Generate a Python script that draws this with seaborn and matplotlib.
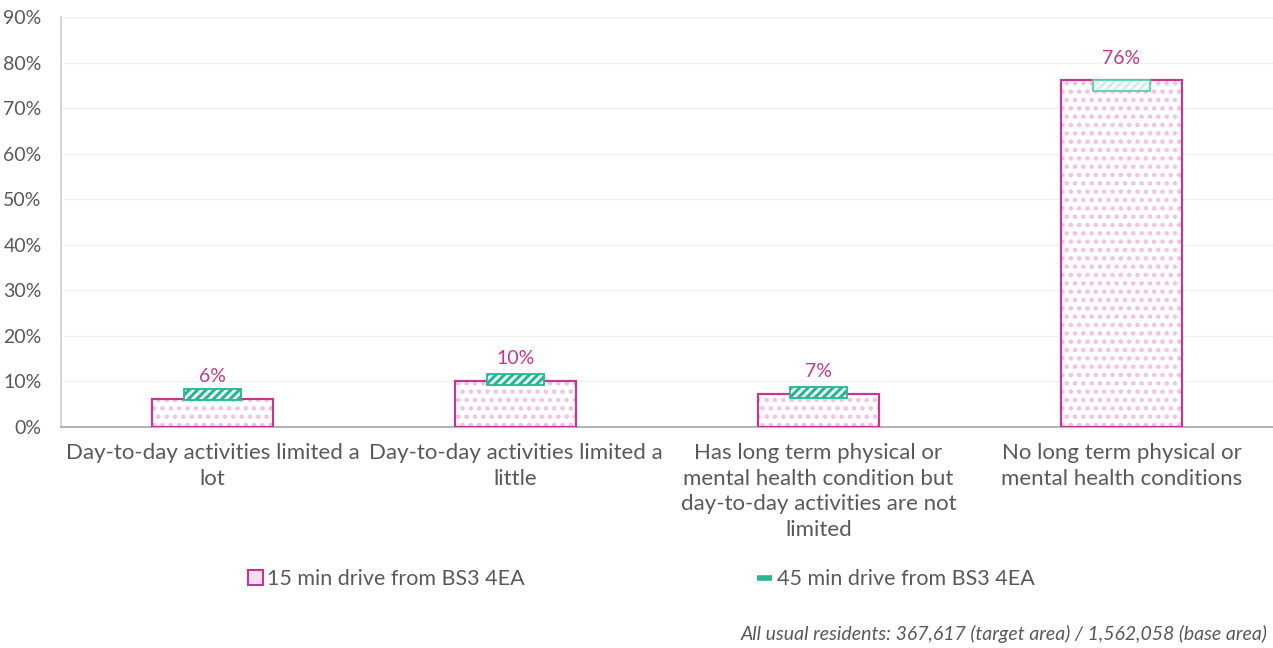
import numpy as np
import pandas as pd
import matplotlib
matplotlib.use("Agg")
import matplotlib.pyplot as plt
import seaborn as sns
from matplotlib.patches import Patch
from matplotlib.lines import Line2D

categories = [
    "Day-to-day activities limited a\nlot",
    "Day-to-day activities limited a\nlittle",
    "Has long term physical or\nmental health condition but\nday-to-day activities are not\nlimited",
    "No long term physical or\nmental health conditions",
]
values_15 = [6.2, 10.1, 7.2, 76.2]
values_45 = [7.1, 10.4, 7.5, 75.1]
value_labels = ["6%", "10%", "7%", "76%"]
series_names = ["15 min drive from BS3 4EA", "45 min drive from BS3 4EA"]
y_ticks = [0, 10, 20, 30, 40, 50, 60, 70, 80, 90]
footnote = "All usual residents: 367,617 (target area) / 1,562,058 (base area)"

sns.set_theme(style="white")
plt.rcParams["font.family"] = ["Lato", "DejaVu Sans"]
plt.rcParams["hatch.linewidth"] = 2.0

PINK = "#C2378F"
PINK_LIGHT = "#F2C2E0"
GREEN = "#22B894"
GREEN_LIGHT = "#CFF3EA"
GRAY = "#595959"

fig = plt.figure(figsize=(12.73, 6.48), dpi=100)
ax = fig.add_axes([0.048, 0.3415, 0.952, 0.6315])

df = pd.DataFrame({"cat": categories, "v15": values_15, "v45": values_45})

# pink bars: hatched fill
sns.barplot(data=df, x="cat", y="v15", ax=ax, width=0.40, color="white",
            edgecolor=PINK_LIGHT, linewidth=0, zorder=2)
for p in ax.patches:
    p.set_hatch("..")
    p.set_edgecolor(PINK_LIGHT)
    p.set_linewidth(0)
# outline
sns.barplot(data=df, x="cat", y="v15", ax=ax, width=0.40, fill=False,
            edgecolor=PINK, linewidth=1.6, zorder=3)

# green markers (box of fixed height centred on the value)
marker_h = 2.5
xs = np.arange(len(categories))
bottoms = np.array(values_45) - marker_h / 2
for i, (x, b) in enumerate(zip(xs, bottoms)):
    face = GREEN if i < 3 else GREEN_LIGHT
    ax.bar(x, marker_h, bottom=b, width=0.19, color=face, edgecolor="white",
           hatch="////", linewidth=0, zorder=4)
    ax.bar(x, marker_h, bottom=b, width=0.19, fill=False,
           edgecolor=GREEN if i < 3 else "#5ccdb2", linewidth=1.3, zorder=5)

# value labels
for x, v, lab in zip(xs, values_15, value_labels):
    ax.text(x, v + 3.0, lab, ha="center", va="bottom", color=PINK, fontsize=14)

ax.set_ylim(0, 90)
ax.set_xlim(-0.5, 3.5)
ax.set_yticks(y_ticks)
ax.set_yticklabels([f"{t}%" for t in y_ticks])
ax.set_xlabel("")
ax.set_ylabel("")
ax.grid(axis="y", color="#F0F0F0", linewidth=1, zorder=0)
ax.set_axisbelow(True)
for s in ["top", "right"]:
    ax.spines[s].set_visible(False)
ax.spines["left"].set_color("#D0D0D0")
ax.spines["bottom"].set_color("#A6A6A6")
ax.spines["bottom"].set_linewidth(1.2)
ax.tick_params(axis="y", colors=GRAY, labelsize=14, length=0, pad=14)
ax.tick_params(axis="x", colors=GRAY, labelsize=16, length=0, pad=12)
for t in ax.get_xticklabels():
    t.set_linespacing(1.34)
    t.set_va("top")

handles = [
    Patch(facecolor="#F7DDEE", edgecolor=PINK, linewidth=1.5),
    Line2D([0], [0], color=GREEN, linewidth=4, solid_capstyle="butt"),
]
leg = fig.legend(handles, series_names, loc="center", bbox_to_anchor=(0.5035, 0.106),
                 ncol=2, frameon=False, fontsize=15.5, labelcolor=GRAY,
                 columnspacing=10.8, handlelength=0.7, handleheight=0.7, handletextpad=0.2)

fig.text(0.9955, 0.022, footnote, ha="right", va="center", style="italic",
         color=GRAY, fontsize=14)

fig.savefig("out.png", dpi=100)
